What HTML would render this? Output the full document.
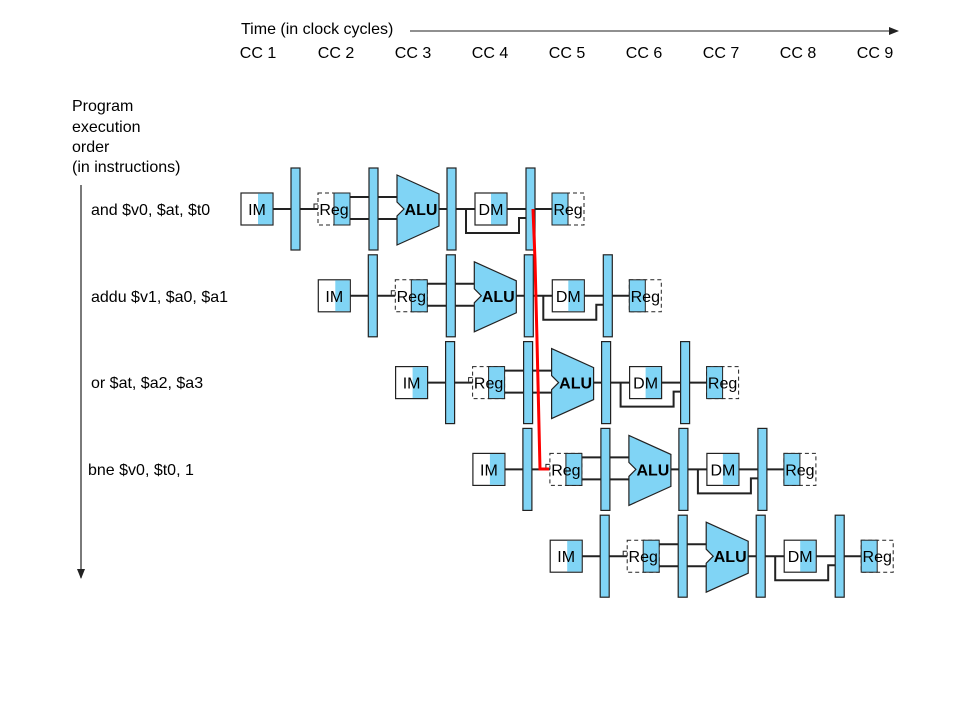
<!DOCTYPE html>
<html><head><meta charset="utf-8"><style>
body{margin:0;background:#fff}
svg{display:block;font-family:"Liberation Sans",Arial,sans-serif}
</style></head><body>
<svg width="979" height="715" viewBox="0 0 979 715" xmlns="http://www.w3.org/2000/svg">
<defs>
<g id="pipe">
  <g stroke="#222" stroke-width="2" fill="none">
    <line x1="273" y1="209" x2="291" y2="209"/>
    <line x1="300" y1="209" x2="318" y2="209"/>
    <polyline points="314,208 314,204 318,204" stroke-width="1"/>
    <line x1="350" y1="197" x2="397" y2="197"/>
    <line x1="350" y1="219" x2="397" y2="219"/>
    <line x1="439" y1="209" x2="475" y2="209"/>
    <polyline points="466,209 466,233 519,233 519,218 526,218"/>
    <line x1="507" y1="209" x2="526" y2="209"/>
    <line x1="535" y1="209" x2="552" y2="209"/>
  </g>
  <rect x="241" y="193" width="32" height="32" fill="#fff" stroke="#222" stroke-width="1.2"/>
  <rect x="258" y="193.6" width="14.4" height="30.8" fill="#80d4f5"/>
  <rect x="291" y="168" width="9" height="82" fill="#80d4f5" stroke="#222" stroke-width="1.2"/>
  <rect x="318" y="193" width="32" height="32" fill="#fff" stroke="#222" stroke-width="1" stroke-dasharray="4,3"/>
  <rect x="334" y="193" width="16" height="32" fill="#80d4f5" stroke="#222" stroke-width="1"/>
  <rect x="369" y="168" width="9" height="82" fill="#80d4f5" stroke="#222" stroke-width="1.2"/>
  <polygon points="397,175 439,194 439,226 397,245 397,216 404,209 397,202" fill="#80d4f5" stroke="#222" stroke-width="1.2"/>
  <rect x="447" y="168" width="9" height="82" fill="#80d4f5" stroke="#222" stroke-width="1.2"/>
  <rect x="475" y="193" width="32" height="32" fill="#fff" stroke="#222" stroke-width="1.2"/>
  <rect x="491" y="193.6" width="15.4" height="30.8" fill="#80d4f5"/>
  <rect x="526" y="168" width="9" height="82" fill="#80d4f5" stroke="#222" stroke-width="1.2"/>
  <rect x="552" y="193" width="32" height="32" fill="#fff" stroke="#222" stroke-width="1" stroke-dasharray="4,3"/>
  <rect x="552" y="193" width="16" height="32" fill="#80d4f5" stroke="#222" stroke-width="1"/>
</g>
<marker id="ah" markerWidth="10" markerHeight="8" refX="9" refY="4" orient="auto" markerUnits="userSpaceOnUse">
  <path d="M0,0 L10,4 L0,8 Z" fill="#222"/>
</marker>
</defs>

<text x="241" y="34" font-size="16">Time (in clock cycles)</text>
<line x1="410" y1="31" x2="898" y2="31" stroke="#222" stroke-width="1" marker-end="url(#ah)"/>
<g font-size="16" text-anchor="middle">
<text x="258" y="58">CC 1</text><text x="336" y="58">CC 2</text><text x="413" y="58">CC 3</text>
<text x="490" y="58">CC 4</text><text x="567" y="58">CC 5</text><text x="644" y="58">CC 6</text>
<text x="721" y="58">CC 7</text><text x="798" y="58">CC 8</text><text x="875" y="58">CC 9</text>
</g>
<g font-size="16">
<text x="72" y="111">Program</text><text x="72" y="132">execution</text>
<text x="72" y="152">order</text><text x="72" y="172">(in instructions)</text>
<text x="91" y="215">and $v0, $at, $t0</text>
<text x="91" y="302">addu $v1, $a0, $a1</text>
<text x="91" y="388">or $at, $a2, $a3</text>
<text x="88" y="475">bne $v0, $t0, 1</text>
</g>
<line x1="81" y1="185" x2="81" y2="578" stroke="#222" stroke-width="1.2" marker-end="url(#ah)"/>

<g id="r0"><use href="#pipe"/>
<g font-size="16" text-anchor="middle"><text x="257" y="215">IM</text><text x="334" y="215">Reg</text><text x="421" y="215" font-weight="bold">ALU</text><text x="491" y="215">DM</text><text x="568" y="215">Reg</text></g></g>
<g transform="translate(77.3,86.8)"><use href="#pipe"/>
<g font-size="16" text-anchor="middle"><text x="257" y="215">IM</text><text x="334" y="215">Reg</text><text x="421" y="215" font-weight="bold">ALU</text><text x="491" y="215">DM</text><text x="568" y="215">Reg</text></g></g>
<g transform="translate(154.6,173.6)"><use href="#pipe"/>
<g font-size="16" text-anchor="middle"><text x="257" y="215">IM</text><text x="334" y="215">Reg</text><text x="421" y="215" font-weight="bold">ALU</text><text x="491" y="215">DM</text><text x="568" y="215">Reg</text></g></g>
<g transform="translate(231.9,260.4)"><use href="#pipe"/>
<g font-size="16" text-anchor="middle"><text x="257" y="215">IM</text><text x="334" y="215">Reg</text><text x="421" y="215" font-weight="bold">ALU</text><text x="491" y="215">DM</text><text x="568" y="215">Reg</text></g></g>
<g transform="translate(309.2,347.2)"><use href="#pipe"/>
<g font-size="16" text-anchor="middle"><text x="257" y="215">IM</text><text x="334" y="215">Reg</text><text x="421" y="215" font-weight="bold">ALU</text><text x="491" y="215">DM</text><text x="568" y="215">Reg</text></g></g>

<polyline points="533,209 535,260 537,340 540,469 549,469" fill="none" stroke="#ff0000" stroke-width="3"/>
</svg>
</body></html>
